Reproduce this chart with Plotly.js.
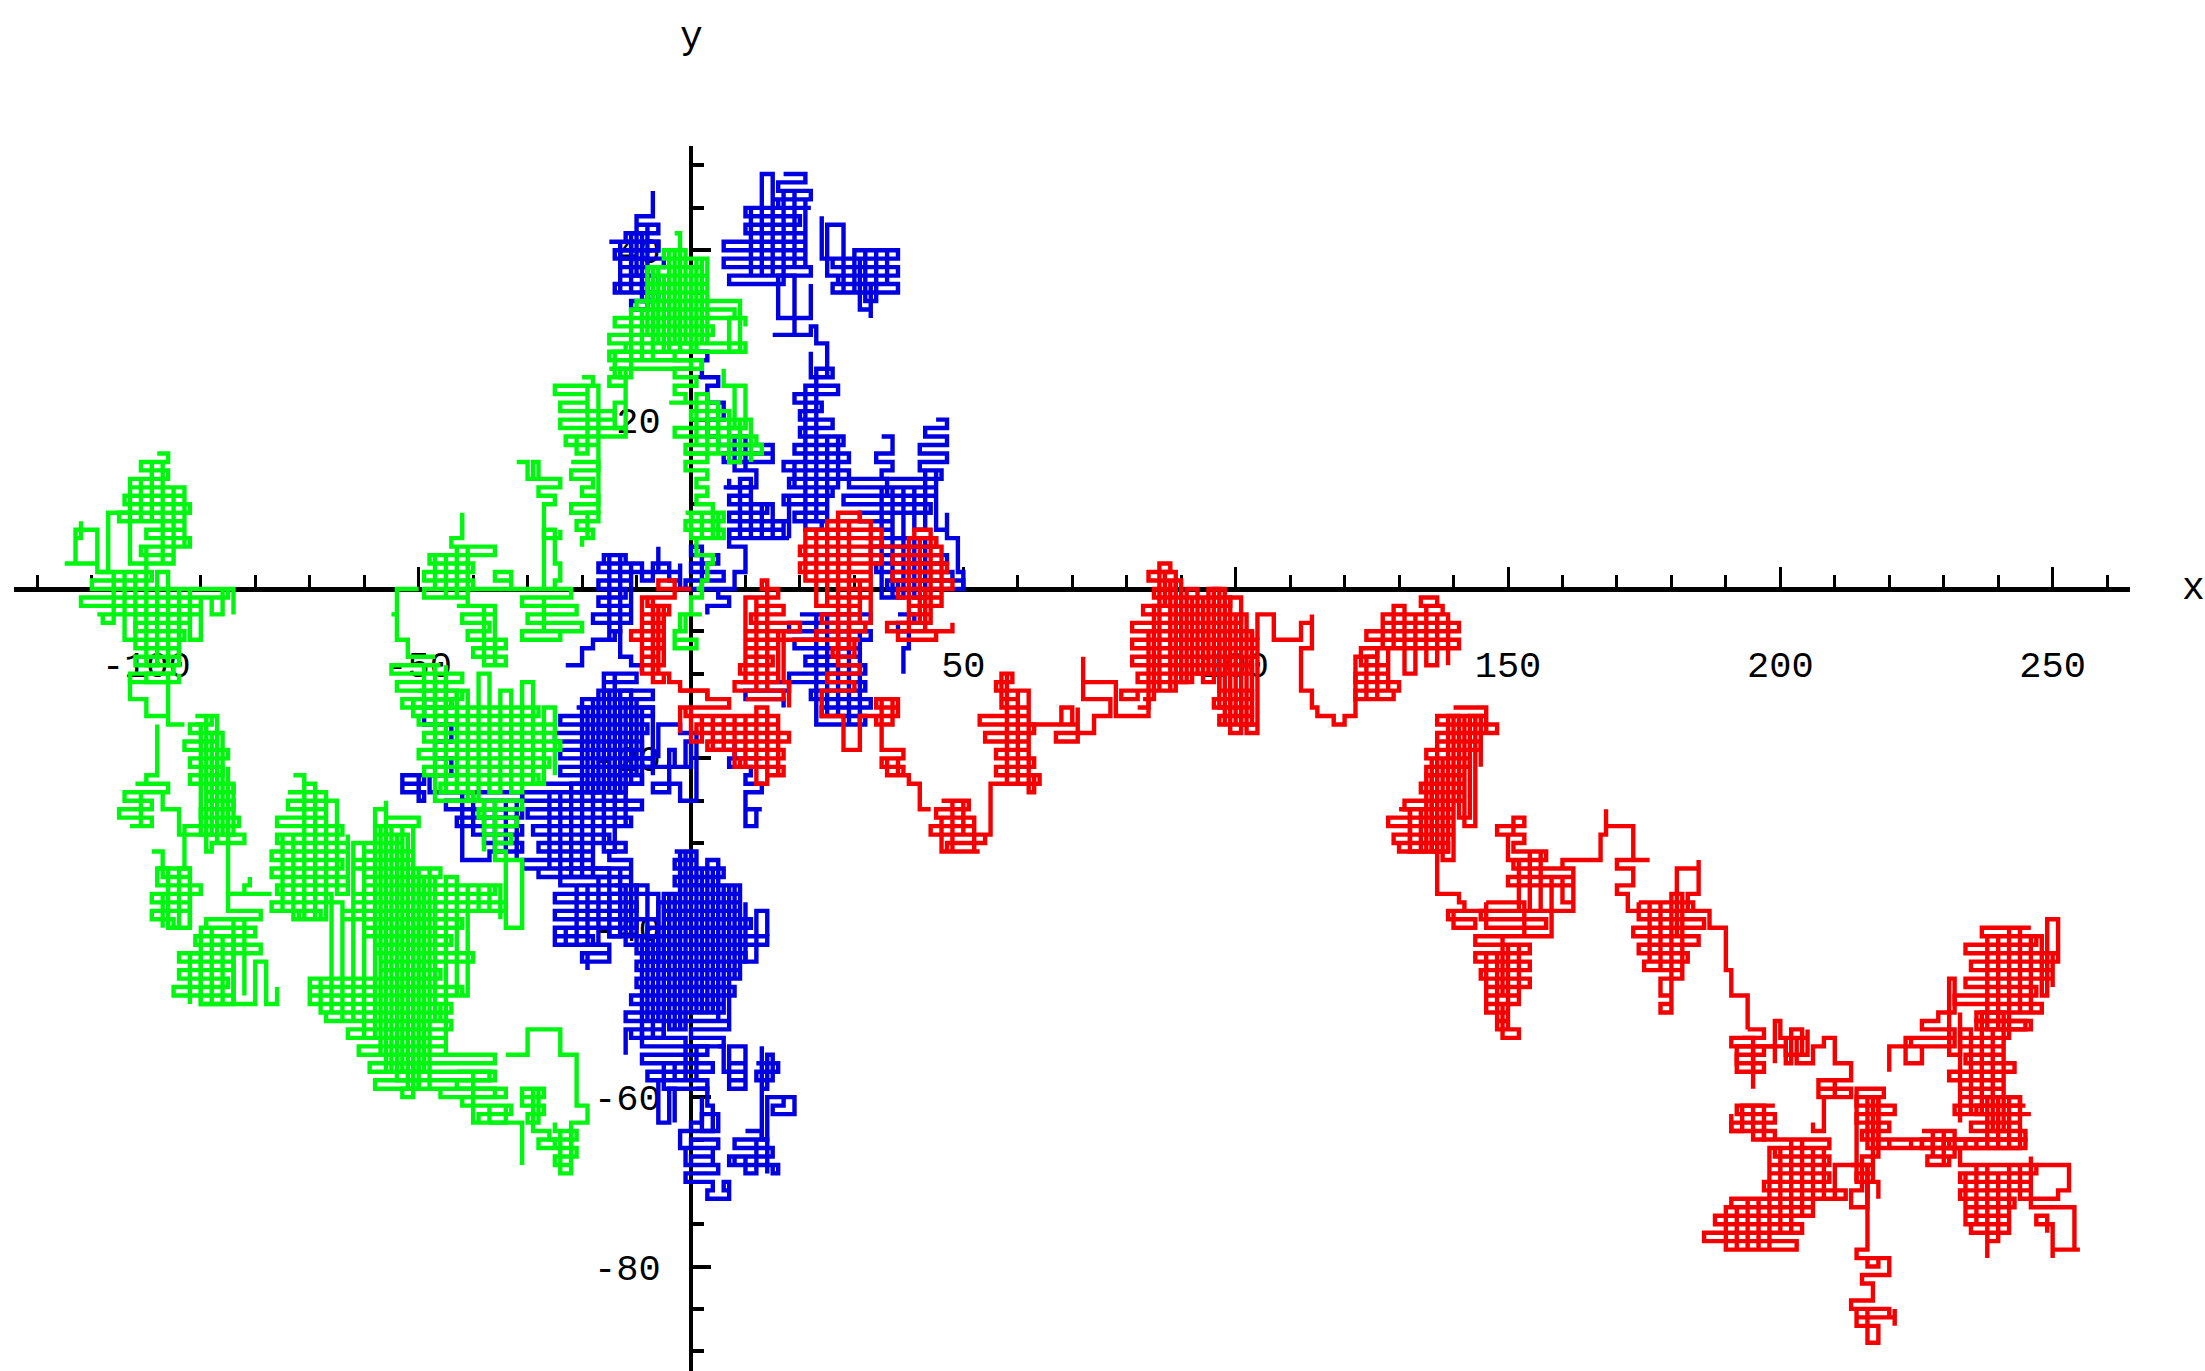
<!DOCTYPE html>
<html><head><meta charset="utf-8">
<script src="https://cdn.plot.ly/plotly-3.0.1.min.js"></script>
<style>html,body{margin:0;padding:0;background:#fff}#c{width:2205px;height:1371px}</style>
</head><body><div id="c"></div>
<script>
// Walks as (x,y) lattice visits: x,y, x,y, ... ; each array is one visible run.
const xTicks=[-100,-50,50,100,150,200,250];
const yTicks=[-80,-60,-40,-20,20,40];
const xRange=[-124.3,264.2], yRange=[-92.33,52.3];

const redA=[0,0,-3,1,-6,0,-3,-1,-8,-2,-4,-3,-9,-4,-5,-5,-11,-6,-5,-7,-9,-8,-6,-9,-9,-10,-5,-11,-7,-1,-9,-9,-5,-2,-6,-10,-4,-11,-2,-12,3,-13];
const redB=[-2,-12,3,-13,7,-14,-1,-15,16,-16,1,-17,18,-18,3,-19,17,-20,9,-21,17,-22,14,-23,12,-14,14,-22,16,-15,10,-21,8,-15,6,-19,4,-15,2,-18,0,-14,-2,-17];
const redC=[10,-13,17,-12,8,-11,16,-10,9,-9,15,-8,10,-7,16,-6,10,-5,20,-4,11,-3,17,-2,12,-1,16,0,13,1,14,0,14,-12,12,-1,10,-11,16,-5,17,-11,18,-14];
const redD=[16,-6,30,-8,26,-7,30,-6,23,-5,32,-4,24,-3,31,-2,25,-1,33,0,27,1,33,2,20,3,35,4,20,5,35,6,21,7,33,8,27,9,31,8,29,-7,27,8,25,-2,23,7,21,1,31,-4,33,7,35,5];
const redE=[33,5,46,4,37,3,47,2,37,1,48,0,40,-1,46,-2,40,-3,44,-4,36,-5,45,-6,38,-5,40,6,42,-4,44,7,41,6,45,5,46,-1,38,0,43,-5,48,-4];
const redF=[31,-6,27,-9,31,-10,25,-11,30,-12,24,-13,24,-15,28,-15,28,-19,31,-19,31,-15,33,-15,38,-14,34,-13,38,-15,34,-16,37,-13,35,-19,39,-20,35,-21,39,-22,36,-20,38,-22,40,-23,42,-26,44,-26];
const redG=[46,-25,51,-26,45,-27,52,-28,44,-29,54,-30,47,-31,53,-31,52,-27,46,-31,48,-25,50,-29,55,-27,55,-23,58,-23];
const redH=[58,-23,64,-22,56,-21,63,-20,56,-19,62,-18,54,-17,63,-16,53,-15,62,-14,57,-13,60,-12,56,-11,59,-10,57,-11,58,-23,60,-12,62,-24,63,-22,60,-20,58,-13,57,-10,58,-16];
const redI=[62,-16,70,-14,68,-16,71,-14,71,-18,67,-17,74,-17,74,-15,77,-15,77,-13,72,-13,72,-8,72,-11,76,-11,78,-13,78,-15,84,-15,84,-13];
const redJ=[82,-14,84,-5,86,-12,82,-13,79,-12,89,-11,82,-10,103,-9,81,-8,104,-7,81,-6,103,-5,81,-4,101,-3,83,-2,99,-1,85,0,89,1,84,2,88,3,86,-12,88,1,90,-11,92,-1,94,-11,96,0,98,-16,100,-3,102,-17,104,-6,97,-12,103,-13,96,-14,103,-15,97,-16,101,-17,99,-12,101,-16,104,-6];
const redJ2=[83,-13,85,-2,87,2,89,-11,91,0,93,-10,95,0,97,-14,99,-1,101,-16,103,-5];
const redK=[104,-6,104,-3,107,-6,112,-4,114,-3,114,-7,112,-9,112,-12,114,-14,115,-15,118,-16,120,-15,122,-14,122,-8,126,-7];
const redL=[126,-7,123,-9,128,-10,122,-11,130,-12,122,-13,129,-12,128,-7,126,-13,124,-8,126,-7,141,-6,124,-5,141,-4,127,-3,138,-2,134,-1,137,-2,135,-9,137,-3,133,-10,131,-2,129,-7,127,-3,139,-9];
const redM=[140,-14,146,-15,137,-16,148,-17,137,-18,145,-19,135,-20,143,-21,135,-22,142,-23,134,-24,142,-25,131,-26,140,-27,128,-28,140,-29,129,-30,139,-31,130,-30,132,-26,134,-31,136,-20,138,-32,140,-15,142,-28,144,-15,146,-17,137,-36,141,-37,142,-38,139,-39,144,-40,140,-38,146,-37];
const redM2=[130,-26,132,-31,135,-22,136,-31,139,-15,141,-27,143,-15,145,-21];
const redN=[146,-37,153,-41,144,-42,154,-43,144,-44,154,-45,145,-46,154,-47,146,-48,152,-49,146,-50,150,-51,148,-52,152,-53,149,-49,146,-43,148,-52,150,-42,152,-48,149,-41,158,-38,145,-39,157,-40,146,-38,162,-35,150,-34,162,-33,151,-32,157,-31,151,-30,153,-29,148,-28,153,-27,151,-29,150,-32,152,-38,154,-31,156,-38,158,-34,160,-37,162,-33,160,-32,167,-31,167,-29,168,-26,168,-28,173,-28,173,-32,176,-32,170,-33,173,-35,170,-36,172,-38,174,-37];
const redP=[174,-37,184,-38,174,-39,186,-40,173,-41,185,-42,174,-43,183,-44,175,-45,182,-44,176,-37,178,-45,180,-36,182,-46,178,-48,180,-49,178,-50,180,-41,181,-36,181,-33,185,-32,185,-36,183,-38,187,-38,187,-40,190,-41,190,-45,191,-48,194,-48,194,-52];
const redQ=[194,-52,197,-53,191,-54,197,-55,192,-56,197,-57,195,-59,195,-54,199,-56,199,-51,200,-53,205,-52,205,-55,201,-53,203,-56,206,-54,208,-53,210,-54,210,-56,213,-58,207,-59,213,-60,207,-58,210,-60,208,-64,206,-63];
const redQ2=[193,-53,195,-57,192,-54,201,-56,202,-52,204,-55];
const redR=[199,-61,192,-62,199,-63,191,-64,199,-65,197,-63,197,-65,209,-66,199,-67,209,-68,198,-69,209,-70,197,-71,212,-72,191,-73,206,-74,188,-75,204,-76,186,-77,203,-78,190,-73,192,-78,194,-72,196,-78,198,-66,200,-76,202,-65,204,-74,206,-66,208,-72,210,-68,216,-72];
const redR2=[193,-61,195,-65,197,-61,193,-64,191,-62];
const redS=[216,-72,216,-78,214,-79,218,-80,216,-79,220,-81,215,-82,217,-84,213,-85,220,-86,214,-87,218,-88,218,-89,216,-85,214,-86,221,-85,221,-87];
const redT=[216,-72,216,-68,213,-68,217,-69,214,-70,217,-60,219,-59,214,-61,221,-62,214,-63,220,-64,215,-65,220,-66,216,-60,218,-66,245,-65,220,-66,224,-65,226,-66,228,-65,230,-66,232,-65,234,-66,236,-65];
const redT2=[226,-64,232,-65,226,-66,232,-67,227,-68,231,-67,228,-64,230,-68];
const redU=[245,-61,236,-62,244,-63,235,-64,245,-65,231,-66,238,-60,240,-66,242,-60,244,-66,233,-68,247,-69,233,-70,246,-71,233,-72,243,-73,234,-74,242,-75,235,-76,240,-77,238,-79,238,-68,236,-75,234,-69,240,-76,242,-68,244,-72,246,-67];
const redV=[247,-68,250,-68,253,-71,251,-72,246,-73,254,-73,254,-78,255,-78,250,-79,250,-75,247,-74,249,-76];
const redW=[246,-62,232,-61,244,-60,233,-59,241,-58,231,-57,243,-56,234,-55,241,-54,233,-53,242,-52,236,-51,245,-52,239,-64,241,-50,237,-62,235,-52,233,-63];
const redX1=[220,-57,220,-54,226,-56,223,-53,232,-54,224,-53,232,-52,226,-51,229,-50,231,-46,232,-50,231,-55,233,-50];
const redY1=[246,-40,237,-41,247,-42,234,-43,251,-44,235,-45,250,-46,234,-47,247,-48,232,-49,248,-50,236,-51,246,-52,238,-41,240,-52,242,-40,244,-50,246,-41,248,-48,249,-39,251,-39,251,-43,250,-47];
const redZ=[214,-70,214,-60,218,-67,215,-71,213,-73,216,-70,218,-72];

const blueA=[0,0,-2,2,-6,5,-6,2,-11,3,-16,4,-12,3,-17,2,-11,1,-17,0,-12,-1,-17,-2,-11,-3,-18,-4,-13,-5,-15,-6,-15,4,-13,-4,-11,3,-9,1,-7,3,-4,1,-2,3,-2,1];
const blueB=[-7,47,-7,44,-10,43,-6,42,-12,41,-6,40,-13,39,-8,38,-11,37,-8,36,-9,35,-7,34,-11,33,-8,43,-10,37];
const blueB2=[-15,41,-6,40,-14,39,-5,38,-13,37,-6,36,-14,35,-6,34,-9,42,-11,35,-13,41];
const blueC=[17,49,21,48,16,47,22,46,16,45,22,45,10,44,20,43,10,42,21,41,6,40,21,39,6,38,22,37,7,36,17,37,11,45,13,37,13,49,15,37,17,47,19,38,21,46,15,40];
const blueD=[24,44,24,39,28,39,28,43,25,43,25,37,30,40,38,39,26,38,38,37,27,36,38,35,26,36,36,40,34,34,32,40,30,35,28,39,31,33,33,32,33,36];
const blueE=[22,36,22,32,16,32,16,37,19,32,19,30,15,30,22,31,23,29,25,28,25,25];
const blueF=[22,28,22,25,26,26,23,24,27,23,19,22,24,21,20,20,26,19,20,18,28,17,19,16,29,15,17,14,29,13,18,12,26,11,17,10,25,9,19,8,24,7,21,24,23,8,25,18,27,12,19,15];
const blueG=[6,12,11,11,7,10,14,9,7,8,17,7,7,6,18,6,9,13,11,6,13,10,15,6,17,8,18,11,18,6];
const blueH=[45,20,47,19,43,18,47,17,42,16,47,15,42,14,46,13,29,12,45,11,28,10,44,9,31,8,37,7,33,7,35,12,37,6,39,12,41,7,43,14,45,7,47,9,47,6,49,6,49,2,50,2,50,0];
const blueH2=[35,18,37,16,34,15,37,14,35,13,36,11];
const blueI=[32,6,45,5,33,4,47,3,34,2,48,1,36,0,50,1,38,-1,35,6,37,-1,39,6,41,-1,43,6];
const blueJ=[0,28,3,27,2,25,5,24,3,22,6,20,3,18,5,17,15,16,6,15,15,17,10,14,10,18,8,14,12,12,7,13];
const blueJ2=[7,7,7,5,10,4,10,2,8,1,8,0,2,0,2,5,0,4,5,3,0,2,6,1,-1,0,5,-1,7,-2,3,-3];
const blueK=[20,-3,33,-4,18,-5,33,-6,19,-7,31,-8,21,-9,32,-10,18,-11,32,-12,22,-13,33,-14,24,-15,32,-16,23,-3,25,-15,27,-4,29,-16,31,-5];
const blueK2=[38,-3,41,-4,38,-5,40,-7,39,-8,39,-10];
const blueK3=[3,-19,8,-18,8,-20,13,-20,7,-21,11,-22,10,-23,13,-24,10,-26,13,-26,12,-28,10,-28,10,-26];
const blueK4=[9,-11,18,-12,10,-13,17,-14];
const blueL0=[-23,-9,-20,-8,-20,-7,-18,-6,-14,-6,-14,-5,-13,-8,-11,-9,-9,-10];
const blueL=[-16,-10,-10,-11,-16,-12,-7,-13,-20,-14,-7,-15,-24,-16,-8,-17,-25,-18,-9,-19,-24,-20,-7,-21,-24,-22,-9,-23,-22,-24,-20,-13,-18,-24,-16,-10,-14,-24,-12,-13,-10,-22];
const blueL2=[-21,-14,-19,-24,-17,-12,-15,-24,-13,-12,-11,-23,-9,-14,-7,-22];
const blueM=[-28,-23,-12,-24,-31,-25,-9,-26,-30,-27,-11,-28,-29,-29,-15,-30,-28,-31,-18,-32,-31,-33,-15,-34,-28,-33,-26,-24,-24,-34,-22,-24,-20,-34,-18,-24,-16,-31,-14,-24,-12,-28];
const blueM2=[-6,-20,-6,-16,-2,-16,-2,-17,1,-17,1,-25,-2,-25,-2,-23,-7,-24,-4,-22,-4,-19,-3,-21,0,-18,-1,-21,-12,-20,-7,-20];
const blueM3=[-53,-23,-49,-22,-53,-24,-49,-25,-50,-22];
const blueM4=[-49,-14,-44,-13,-49,-16,-44,-18,-47,-20,-44,-22,-48,-24,-44,-24,-31,-25,-45,-26,-31,-27,-43,-28,-31,-29,-38,-30,-31,-31,-37,-32,-42,-24,-40,-29,-38,-25,-36,-31,-34,-25,-32,-32];
const blueN0=[-15,-30,-12,-31,-15,-32,-11,-33,-23,-33,-11,-34,-24,-35,-10,-36,-25,-37,-10,-38,-25,-39,-10,-40,-25,-41,-18,-42,-25,-40,-23,-42,-21,-35,-19,-42,-17,-34,-15,-41,-13,-33,-11,-41];
const blueN02=[-14,-35,-12,-42,-10,-35,-8,-44,-6,-36,-15,-39,-6,-41,-15,-40];
const blueN1=[-20,-42,-15,-43,-20,-44,-15,-43,-19,-45];
const blueN=[-3,-31,1,-32,-3,-33,6,-34,-3,-35,9,-36,-4,-37,9,-38,-5,-39,11,-40,-8,-41,14,-42,-10,-43,10,-44,-10,-45,9,-46,-10,-47,8,-48,-11,-49,6,-50,-12,-51,7,-52,0,-53,6,-54,-1,-53,-9,-41,-7,-53,-5,-36,-3,-52,-1,-31,1,-50,3,-32,5,-51,7,-35,9,-46,8,-35,6,-50,4,-33,2,-50,0,-31,-2,-52,-4,-37,-6,-51,-8,-42];
const blueN2=[10,-37,10,-44,12,-42,12,-38,14,-41];
const blueO=[-12,-55,-12,-52,-5,-53,-11,-52,-9,-54,3,-55,-9,-56,4,-57,-8,-58,3,-59,-5,-56,-3,-58,-1,-54,1,-58];
const blueO2=[-6,-58,-6,-63,-4,-63,-4,-59,-3,-59,-3,-63];
const blueO3=[1,-59,3,-61,4,-64,2,-60];
const blueP=[5,-54,6,-56,6,-57,10,-54,7,-58,10,-56,7,-59,10,-58];
const blueP2=[12,-56,16,-57,12,-58,15,-55,14,-59,13,-54,13,-65,14,-60,19,-60,19,-62,15,-61,17,-60];
const blueQ=[-2,-64,0,-63,2,-62,5,-64,-2,-66,5,-65,0,-66,4,-67,0,-68,4,-66,-1,-68,5,-69,-1,-70,4,-71,3,-72,7,-70,6,-71,7,-71];
const blueQ2=[10,-64,13,-65,8,-66,15,-67,8,-68,15,-69,16,-68,7,-67,10,-69,12,-65,14,-69];

const greenA=[-98,16,-96,15,-101,14,-96,13,-103,12,-93,11,-104,10,-92,9,-105,8,-93,7,-100,6,-92,5,-101,4,-95,3,-103,13,-101,8,-99,15,-97,3,-95,12,-93,5,-100,2];
const greenB=[-112,8,-112,6,-113,6,-113,3,-115,3,-109,3,-109,7,-113,7,-113,3,-109,2,-107,2,-107,9,-102,9];
const greenC=[-109,2,-99,1,-110,0,-85,-1,-112,-2,-90,-3,-109,-3,-108,-4,-106,2,-104,-6,-102,2,-100,-9,-98,2,-96,-9,-94,0,-92,-6,-90,-1,-88,-3,-86,0,-84,-3];
const greenD=[-102,-3,-92,-4,-102,-5,-93,-6,-102,-7,-94,-8,-102,-9,-95,-10,-103,-11,-94,-10];
const greenE=[-103,-10,-103,-13,-100,-13,-100,-15,-96,-16,-96,-10,-100,-11,-96,-16,-93,-16];
const greenE2=[-98,-16,-98,-22,-100,-23];
const greenF=[-91,-15,-88,-16,-92,-17,-87,-18,-93,-19,-85,-20,-92,-21,-86,-22,-92,-23,-84,-24,-89,-25,-84,-26,-90,-27,-83,-28,-93,-29,-82,-30,-88,-31,-89,-15,-87,-30,-85,-21,-85,-31,-85,-36,-82,-35,-81,-34];
const greenF2=[-91,-16,-90,-29,-88,-17,-86,-29,-84,-23];
const greenG=[-102,-23,-96,-24,-104,-25,-99,-26,-105,-27,-99,-28,-103,-28,-101,-24,-97,-26,-94,-27,-94,-29,-93,-29,-93,-33];
const greenH=[-99,-31,-97,-34,-92,-33,-98,-35,-90,-36,-99,-37,-92,-38,-99,-39,-95,-40,-92,-36,-97,-40];
const greenH2=[-98,-33,-96,-40,-94,-33,-92,-40];
const greenI=[-85,-36,-77,-36,-85,-38,-79,-39,-89,-40,-80,-41,-91,-42,-79,-43,-94,-44,-84,-45,-94,-46,-85,-47,-95,-48,-84,-49,-90,-40,-88,-49,-86,-41,-84,-49,-80,-44,-78,-49,-76,-47];
const greenI2=[-92,-49,-92,-43,-90,-49,-86,-49,-84,-39,-82,-48];
const greenJ=[-73,-22,-71,-24,-74,-24,-67,-25,-74,-26,-67,-27,-76,-28,-64,-29,-76,-30,-63,-31,-77,-32,-64,-33,-77,-34,-63,-35,-76,-36,-66,-37,-77,-38,-68,-39,-72,-38,-75,-29,-73,-39,-71,-23,-69,-39,-67,-25,-65,-36,-63,-29];
const greenK=[-56,-25,-56,-27,-50,-28,-58,-29,-53,-30,-60,-31,-51,-32,-62,-33,-46,-34,-60,-35,-36,-36,-62,-37,-34,-38,-64,-39,-42,-40,-60,-41,-44,-42,-58,-43,-40,-44,-57,-45,-46,-46,-70,-47,-42,-48,-70,-49,-44,-50,-67,-51,-44,-52,-63,-53,-45,-54,-61,-55,-36,-56,-59,-57,-37,-58,-58,-59,-36,-60,-46,-59,-48,-33,-50,-59,-52,-29,-54,-57,-56,-26,-58,-53,-60,-30,-62,-51,-64,-37,-66,-50,-68,-46,-70,-49,-46,-51,-47,-34,-49,-57,-51,-28,-53,-57,-55,-28,-57,-55,-45,-34,-43,-48,-41,-35,-39,-38,-37,-35,-35,-39];
const greenL=[-43,-57,-36,-58,-43,-59,-34,-60,-42,-61,-33,-62,-39,-63,-34,-61,-37,-63,-40,-57];
const greenL2=[-54,-56,-50,-57,-54,-58,-50,-59,-53,-60,-51,-56];
const greenM=[-34,-55,-30,-54,-30,-52,-24,-53,-24,-55,-21,-56,-21,-61,-19,-62,-19,-63,-22,-63,-22,-66];
const greenN=[-31,-60,-27,-59,-31,-61,-27,-62,-30,-63,-28,-59,-29,-64,-26,-65,-25,-66];
const greenN2=[-37,-63,-31,-64,-31,-68];
const greenO=[-25,-63,-25,-64,-21,-65,-28,-66,-21,-67,-25,-68,-22,-69,-24,-64,-22,-68];
const greenP=[-42,9,-42,6,-44,5,-36,4,-48,3,-40,2,-49,1,-40,0,-49,-1,-41,0,-47,4,-45,-1,-43,5,-41,-2];
const greenP2=[-43,-2,-36,-3,-42,-4,-37,-5,-41,-6,-34,-7,-40,-8,-34,-9,-38,-2,-36,-9];
const greenP3=[-50,0,-54,0,-54,-3,-55,-3,-54,-3,-54,-6,-52,-6,-52,-8,-47,-8];
const greenQ=[-55,-9,-46,-9,-55,-10,-42,-11,-54,-12,-43,-13,-53,-14,-44,-13,-51,-15,-49,-9,-47,-15,-45,-9];
const greenQ2=[-50,-12,-42,-13,-51,-14,-28,-15,-50,-16,-25,-17,-49,-18,-24,-19,-50,-20,-26,-21,-49,-22,-28,-23,-46,-24,-40,-25,-47,-11,-45,-24,-43,-12,-41,-25,-39,-10,-37,-24,-35,-12,-33,-24,-31,-11,-29,-23,-27,-14,-25,-22];
const greenQ3=[-40,-25,-31,-26,-39,-27,-32,-28,-38,-29,-33,-30,-36,-31,-34,-32,-34,-40,-31,-40,-31,-32,-36,-25,-38,-31];
const greenR=[-42,0,-33,1,-36,2,-33,2,-33,0,-22,-1,-31,-2,-21,-3,-30,-4,-20,-5,-31,-6,-24,-5,-27,-1];
const greenS=[-27,0,-27,7,-25,6,-25,3,-24,1,-25,0];
const greenT=[-32,15,-30,13,-28,15,-29,13,-24,12,-28,11,-25,10,-27,9,-27,6,-24,7];
const greenU=[-20,25,-18,24,-25,23,-19,22,-24,21,-14,20,-24,19,-12,18,-23,17,-17,18,-21,16,-19,24,-17,9,-19,6];
const greenU2=[-22,15,-17,14,-22,13,-18,12,-20,11,-17,10,-22,9,-17,8,-21,7,-18,6,-20,5];
const greenU3=[-15,26,-12,25,-15,24,-12,22,-14,21,-14,19,-12,25,-14,26,-14,28,-12,29];
const greenV=[-3,42,-2,40,-5,39,2,38,-7,37,3,36,-8,35,3,34,-10,33,8,32,-14,31,4,30,-15,29,10,28,-15,27,2,26,-13,25,-11,33,-9,27,-7,37,-5,28,-4,40,-2,28,0,38,2,29,-1,40,-3,29,1,39,3,29,-6,38,-8,30];
const greenV2=[1,34,9,34,9,28,7,28,7,32,10,31];
const greenW=[-4,29,1,28,-3,27,0,26,-3,25,1,24,-3,23,-1,22];
const greenX=[-4,22,5,21,0,20,10,19,-3,18,12,17,-1,16,13,17,1,23,3,16,5,21,7,15,9,20,11,15];
const greenX2=[6,26,6,24,10,23,10,19,8,24,8,19];
const greenY=[-1,16,3,15,-1,14,3,13,1,12,3,11,1,10,4,9,-1,9,6,8,-1,7,6,6,0,9,2,6,4,9,5,6];
const greenZ=[1,6,1,4,4,4,4,3,3,3,3,1,2,1,2,0,1,0,2,-1,0,-1,0,-3,2,-3,-2,-5,-3,-6,1,-7,-3,-5,-1,-3];

const redRuns=[redA,redB,redC,redD,redE,redF,redG,redH,redI,redJ,redJ2,redK,redL,redM,redM2,redN,redP,redQ,redQ2,redR,redR2,redS,redT,redT2,redU,redV,redW,redX1,redY1,redZ];
const blueRuns=[blueA,blueB,blueB2,blueC,blueD,blueE,blueF,blueG,blueH,blueH2,blueI,blueJ,blueJ2,blueK,blueK2,blueK3,blueK4,blueL0,blueL,blueL2,blueM,blueM2,blueM3,blueM4,blueN0,blueN02,blueN1,blueN,blueN2,blueO,blueO2,blueO3,blueP,blueP2,blueQ,blueQ2];
const greenRuns=[greenA,greenB,greenC,greenD,greenE,greenE2,greenF,greenF2,greenG,greenH,greenH2,greenI,greenI2,greenJ,greenK,greenL,greenL2,greenM,greenN,greenN2,greenO,greenP,greenP2,greenP3,greenQ,greenQ2,greenQ3,greenR,greenS,greenT,greenU,greenU2,greenU3,greenV,greenV2,greenW,greenX,greenX2,greenY,greenZ];

function trace(runs,color,name){
  const x=[],y=[];
  runs.forEach(r=>{for(let i=0;i+1<r.length;i+=2){x.push(r[i]);y.push(r[i+1]);} x.push(null);y.push(null);});
  return {x,y,name,type:'scatter',mode:'lines',line:{color,width:4.4,shape:'hv',simplify:false},connectgaps:false,hoverinfo:'skip'};
}
const tickFont={family:'Liberation Mono, monospace',size:37,color:'#000'};
const layout={
  width:2205,height:1371,showlegend:false,paper_bgcolor:'#fff',plot_bgcolor:'#fff',
  margin:{l:14,r:75,t:146,b:0,pad:0},
  xaxis:{range:xRange,anchor:'free',position:(0-yRange[0])/(yRange[1]-yRange[0]),showgrid:false,zeroline:false,
    showline:true,linecolor:'#000',linewidth:5,tickmode:'array',tickvals:xTicks,ticktext:xTicks.map(String),
    ticks:'inside',ticklen:20,tickwidth:3,tickcolor:'#000',tickfont:tickFont,ticklabelstandoff:41,layer:'below traces',
    minor:{dtick:10,ticks:'inside',ticklen:12,tickwidth:3,tickcolor:'#000',showgrid:false}},
  yaxis:{range:yRange,anchor:'free',position:(0-xRange[0])/(xRange[1]-xRange[0]),showgrid:false,zeroline:false,
    showline:true,linecolor:'#000',linewidth:4,tickmode:'array',tickvals:yTicks,ticktext:yTicks.map(String),
    ticks:'inside',ticklen:18,tickwidth:4,tickcolor:'#000',tickfont:tickFont,ticklabelstandoff:21,layer:'below traces',
    minor:{dtick:5,ticks:'inside',ticklen:11,tickwidth:4,tickcolor:'#000',showgrid:false}},
  annotations:[
    {text:'y',xref:'x',yref:'paper',x:0,y:1.0888,yanchor:'middle',xanchor:'center',showarrow:false,font:{family:'Liberation Mono, monospace',size:38,color:'#000'}},
    {text:'x',xref:'paper',yref:'y',x:1.0302,y:0,yanchor:'middle',xanchor:'center',showarrow:false,font:{family:'Liberation Mono, monospace',size:38,color:'#000'}}
  ]
};
Plotly.newPlot('c',[trace(blueRuns,'#0000e0','blue walk'),trace(redRuns,'#f50000','red walk'),trace(greenRuns,'#00f510','green walk')],layout,{displayModeBar:false,staticPlot:true});
</script></body></html>
